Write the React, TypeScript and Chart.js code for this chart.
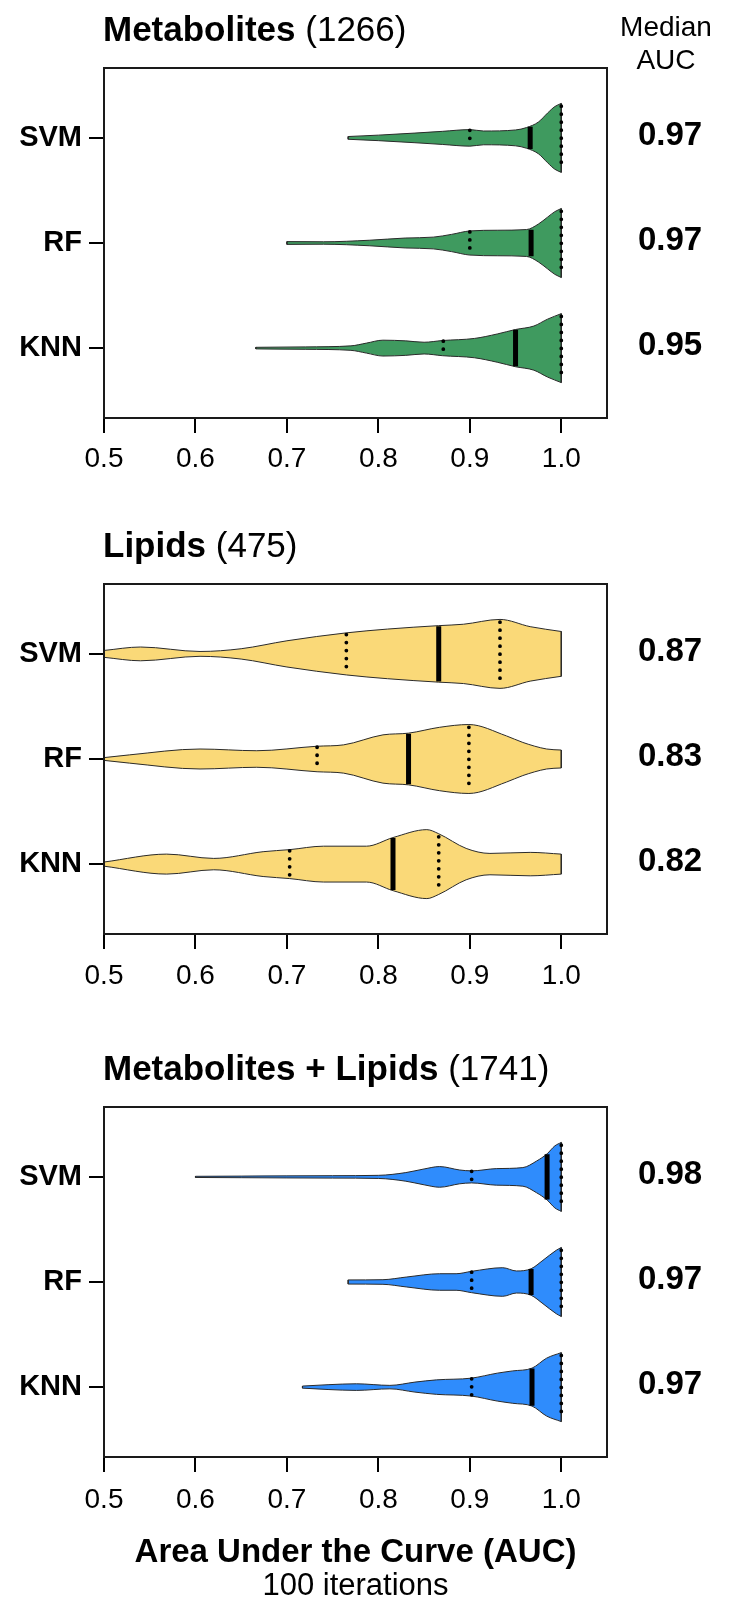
import React, { useEffect, useRef } from 'react';
import { Chart, registerables } from 'chart.js';
Chart.register(...registerables);

const FONT = '"Liberation Sans", Arial, Helvetica, sans-serif';
const OUTLINE = '#2a2a2a';
const HALF = 0.328; // max half-width of a violin in category units

const models = ['SVM', 'RF', 'KNN'];
const xTickValues = [0.5, 0.6, 0.7, 0.8, 0.9, 1.0];
const xTickLabels = ['0.5', '0.6', '0.7', '0.8', '0.9', '1.0'];

// ---- Metabolites (1266) ----
const metSvmX = [0.767, 0.8, 0.84, 0.87, 0.9, 0.915, 0.95, 0.962, 0.975, 0.985, 0.993, 1.0];
const metSvmD = [0.04, 0.08, 0.14, 0.19, 0.24, 0.2, 0.23, 0.3, 0.46, 0.72, 0.91, 1.0];
const metRfX = [0.7, 0.74, 0.79, 0.83, 0.86, 0.88, 0.9, 0.93, 0.962, 0.975, 0.985, 0.993, 1.0];
const metRfD = [0.04, 0.035, 0.08, 0.145, 0.17, 0.25, 0.35, 0.37, 0.39, 0.55, 0.75, 0.91, 1.0];
const metKnnX = [0.666, 0.72, 0.77, 0.787, 0.805, 0.83, 0.85, 0.87, 0.905, 0.93, 0.95, 0.97, 0.985, 1.0];
const metKnnD = [0.023, 0.035, 0.065, 0.145, 0.23, 0.21, 0.17, 0.22, 0.28, 0.41, 0.54, 0.64, 0.84, 1.0];
const metQ1 = [0.9, 0.9, 0.871];
const metQ1W = [0.24, 0.35, 0.22];
const metMed = [0.966, 0.967, 0.95];
const metMedW = [0.33, 0.39, 0.54];
const metQ3 = [1.0, 1.0, 1.0];
const metQ3W = [1.0, 1.0, 1.0];
const metMedianLabels = ['0.97', '0.97', '0.95'];

// ---- Lipids (475) ----
const lipSvmX = [0.5, 0.54, 0.605, 0.65, 0.7, 0.765, 0.81, 0.866, 0.893, 0.933, 0.966, 1.0];
const lipSvmD = [0.1, 0.2, 0.07, 0.15, 0.38, 0.61, 0.72, 0.82, 0.86, 1.0, 0.79, 0.65];
const lipRfX = [0.5, 0.528, 0.605, 0.667, 0.733, 0.762, 0.805, 0.833, 0.867, 0.899, 0.94, 0.958, 0.984, 1.0];
const lipRfD = [0.04, 0.12, 0.29, 0.24, 0.37, 0.41, 0.7, 0.75, 0.92, 1.0, 0.67, 0.48, 0.29, 0.26];
const lipKnnX = [0.5, 0.5685, 0.62, 0.674, 0.703, 0.74, 0.787, 0.816, 0.853, 0.866, 0.896, 0.922, 0.966, 1.0];
const lipKnnD = [0.06, 0.29, 0.165, 0.36, 0.42, 0.52, 0.52, 0.77, 1.0, 0.88, 0.455, 0.31, 0.34, 0.29];
const lipQ1 = [0.765, 0.733, 0.703];
const lipQ1W = [0.61, 0.37, 0.42];
const lipMed = [0.866, 0.833, 0.816];
const lipMedW = [0.82, 0.75, 0.77];
const lipQ3 = [0.933, 0.899, 0.866];
const lipQ3W = [1.0, 1.0, 0.86];
const lipMedianLabels = ['0.87', '0.83', '0.82'];

// ---- Metabolites + Lipids (1741) ----
const combSvmX = [0.6, 0.65, 0.7, 0.75, 0.8, 0.83, 0.85, 0.867, 0.889, 0.902, 0.929, 0.958, 0.973, 0.9845, 0.993, 1.0];
const combSvmD = [0.017, 0.023, 0.03, 0.035, 0.045, 0.125, 0.23, 0.3, 0.2, 0.175, 0.24, 0.27, 0.46, 0.67, 0.9, 1.0];
const combRfX = [0.767, 0.805, 0.831, 0.867, 0.885, 0.902, 0.936, 0.951, 0.967, 0.98, 0.9945, 1.0];
const combRfD = [0.06, 0.067, 0.145, 0.24, 0.24, 0.31, 0.415, 0.32, 0.385, 0.63, 0.92, 1.0];
const combKnnX = [0.717, 0.745, 0.776, 0.8126, 0.84, 0.8636, 0.9017, 0.93, 0.947, 0.968, 0.984, 1.0];
const combKnnD = [0.03, 0.07, 0.096, 0.05, 0.145, 0.21, 0.26, 0.405, 0.47, 0.55, 0.84, 1.0];
const combQ1 = [0.902, 0.902, 0.902];
const combQ1W = [0.175, 0.31, 0.26];
const combMed = [0.9845, 0.967, 0.968];
const combMedW = [0.67, 0.385, 0.55];
const combQ3 = [1.0, 1.0, 1.0];
const combQ3W = [1.0, 1.0, 1.0];
const combMedianLabels = ['0.98', '0.97', '0.97'];

type Panel = {
  titleBold: string;
  titleRest: string;
  color: string;
  xs: number[][];
  ds: number[][];
  q1: number[]; q1w: number[];
  med: number[]; medw: number[];
  q3: number[]; q3w: number[];
  labels: string[];
  canvasTop: number;
  canvasHeight: number;
  padTop: number;
  xAxisHeight: number;
  tickPad: number;
  header?: boolean;
  axisTitle?: boolean;
};

const panels: Panel[] = [
  {
    titleBold: 'Metabolites', titleRest: ' (1266)', color: '#3f9a5f',
    xs: [metSvmX, metRfX, metKnnX], ds: [metSvmD, metRfD, metKnnD],
    q1: metQ1, q1w: metQ1W, med: metMed, medw: metMedW, q3: metQ3, q3w: metQ3W,
    labels: metMedianLabels,
    canvasTop: 0, canvasHeight: 500, padTop: 68, xAxisHeight: 82, tickPad: 9, header: true,
  },
  {
    titleBold: 'Lipids', titleRest: ' (475)', color: '#fad978',
    xs: [lipSvmX, lipRfX, lipKnnX], ds: [lipSvmD, lipRfD, lipKnnD],
    q1: lipQ1, q1w: lipQ1W, med: lipMed, medw: lipMedW, q3: lipQ3, q3w: lipQ3W,
    labels: lipMedianLabels,
    canvasTop: 500, canvasHeight: 520, padTop: 84, xAxisHeight: 86, tickPad: 10,
  },
  {
    titleBold: 'Metabolites + Lipids', titleRest: ' (1741)', color: '#2f8cfc',
    xs: [combSvmX, combRfX, combKnnX], ds: [combSvmD, combRfD, combKnnD],
    q1: combQ1, q1w: combQ1W, med: combMed, medw: combMedW, q3: combQ3, q3w: combQ3W,
    labels: combMedianLabels,
    canvasTop: 1020, canvasHeight: 578, padTop: 87, xAxisHeight: 141, tickPad: 11, axisTitle: true,
  },
];

function seg(x: number, c: number, w: number) {
  return [{ x, y: c - w * HALF }, { x, y: c + w * HALF }];
}

function buildDatasets(p: Panel) {
  const out: any[] = [];
  const base = { pointRadius: 0, pointHoverRadius: 0, fill: false, tension: 0 };
  // quartile lines first (Chart.js draws the first datasets on top)
  for (let i = 0; i < 3; i++) {
    const c = i + 1;
    out.push({ ...base, data: seg(p.med[i], c, p.medw[i] * 0.98), borderColor: '#000', borderWidth: 5, borderCapStyle: 'butt' });
    out.push({ ...base, data: seg(p.q1[i], c, p.q1w[i] * 0.92), borderColor: '#000', borderWidth: 3.8, borderDash: [0, 8], borderCapStyle: 'round' });
    out.push({ ...base, data: seg(p.q3[i], c, p.q3w[i] * 0.92), borderColor: '#000', borderWidth: 3.8, borderDash: [0, 8], borderCapStyle: 'round' });
  }
  for (let i = 0; i < 3; i++) {
    const c = i + 1;
    const xs = p.xs[i];
    const ds = p.ds[i];
    const up = xs.map((x, k) => ({ x, y: c - ds[k] * HALF }));
    const lo = xs.map((x, k) => ({ x, y: c + ds[k] * HALF }));
    const n = xs.length - 1;
    out.push({ ...base, data: [up[n], lo[n]], borderColor: OUTLINE, borderWidth: 1 });
    out.push({ ...base, data: [up[0], lo[0]], borderColor: OUTLINE, borderWidth: 1 });
    out.push({ ...base, data: up, fill: '+1', backgroundColor: p.color, borderColor: OUTLINE, borderWidth: 1, cubicInterpolationMode: 'monotone' });
    out.push({ ...base, data: lo, borderColor: OUTLINE, borderWidth: 1, cubicInterpolationMode: 'monotone' });
  }
  return out;
}

function ViolinPanel({ p }: { p: Panel }) {
  const ref = useRef<HTMLCanvasElement | null>(null);
  useEffect(() => {
    if (!ref.current) return;
    const decor = {
      id: 'decor',
      afterDraw(chart: any) {
        const ctx = chart.ctx;
        const a = chart.chartArea;
        ctx.save();
        // box
        ctx.strokeStyle = '#1a1a1a';
        ctx.lineWidth = 2;
        ctx.strokeRect(a.left, a.top, a.right - a.left, a.bottom - a.top);
        ctx.fillStyle = '#000';
        // title
        ctx.textAlign = 'left';
        ctx.textBaseline = 'alphabetic';
        ctx.font = `bold 35px ${FONT}`;
        const tx = 103;
        const ty = a.top - 27;
        ctx.fillText(p.titleBold, tx, ty);
        const w = ctx.measureText(p.titleBold).width;
        ctx.font = `35px ${FONT}`;
        ctx.fillText(p.titleRest, tx + w, ty);
        // header
        if (p.header) {
          ctx.textAlign = 'center';
          ctx.font = `28px ${FONT}`;
          ctx.fillText('Median', 666, 36);
          ctx.fillText('AUC', 666, 69);
        }
        // median labels
        ctx.textAlign = 'center';
        ctx.textBaseline = 'middle';
        ctx.font = `bold 33px ${FONT}`;
        const ys = chart.scales.y;
        p.labels.forEach((t, i) => {
          ctx.fillText(t, 670, ys.getPixelForValue(i + 1) - 2);
        });
        if (p.axisTitle) {
          ctx.textBaseline = 'alphabetic';
          const cx = (a.left + a.right) / 2;
          ctx.font = `bold 33px ${FONT}`;
          ctx.fillText('Area Under the Curve (AUC)', cx, 1562 - p.canvasTop);
          ctx.font = `31px ${FONT}`;
          ctx.fillText('100 iterations', cx, 1595 - p.canvasTop);
        }
        ctx.restore();
      },
    };
    const chart = new Chart(ref.current, {
      type: 'line',
      data: { datasets: buildDatasets(p) },
      options: {
        responsive: false,
        animation: false,
        events: [],
        layout: { padding: { top: p.padTop, right: 122, left: 0, bottom: 0 } },
        plugins: {
          legend: { display: false },
          tooltip: { enabled: false },
          filler: { drawTime: 'beforeDatasetsDraw' },
        },
        scales: {
          x: {
            type: 'linear',
            min: 0.5,
            max: 1.05,
            afterBuildTicks: (s: any) => { s.ticks = xTickValues.map((v) => ({ value: v })); },
            afterFit: (s: any) => { s.height = p.xAxisHeight; },
            ticks: {
              callback: (_v: any, i: number) => xTickLabels[i],
              font: { family: FONT, size: 28, lineHeight: 1.2 },
              color: '#000',
              padding: p.tickPad,
              maxRotation: 0,
              autoSkip: false,
            },
            grid: { display: true, drawOnChartArea: false, drawTicks: true, tickLength: 15, color: '#000', lineWidth: 2 },
            border: { display: true, color: '#000', width: 2 },
          },
          y: {
            type: 'linear',
            min: 0.335,
            max: 3.665,
            reverse: true,
            afterBuildTicks: (s: any) => { s.ticks = [1, 2, 3].map((v) => ({ value: v })); },
            afterFit: (s: any) => { s.width = 104; },
            ticks: {
              callback: (_v: any, i: number) => models[i],
              font: { family: FONT, size: 29, weight: 'bold' },
              color: '#000',
              padding: 7,
              autoSkip: false,
            },
            grid: { display: true, drawOnChartArea: false, drawTicks: true, tickLength: 15, color: '#000', lineWidth: 2 },
            border: { display: true, color: '#000', width: 2 },
          },
        },
      } as any,
      plugins: [decor],
    });
    return () => chart.destroy();
  }, [p]);
  return (
    <canvas
      ref={ref}
      width={729}
      height={p.canvasHeight}
      style={{ position: 'absolute', left: 0, top: p.canvasTop, width: 729, height: p.canvasHeight, display: 'block' }}
    />
  );
}

export default function App() {
  return (
    <div style={{ position: 'absolute', left: 0, top: 0, width: 729, height: 1598, background: '#fff', overflow: 'hidden' }}>
      {panels.map((p, i) => (
        <ViolinPanel key={i} p={p} />
      ))}
    </div>
  );
}
